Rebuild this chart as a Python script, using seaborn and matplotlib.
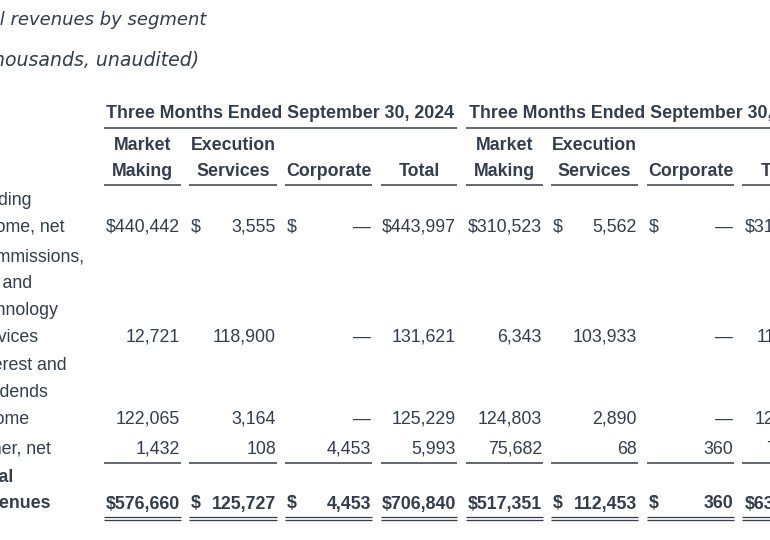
import matplotlib
matplotlib.use("Agg")
import matplotlib.pyplot as plt
import seaborn as sns

# table content
periods = ["Three Months Ended September 30, 2024", "Three Months Ended September 30, 2023"]
segments = [["Market", "Making"], ["Execution", "Services"], ["Corporate"], ["Total"]]
row_labels = [["Trading", "income, net"],
              ["Commissions,", "net and", "technology", "services"],
              ["Interest and", "dividends", "income"],
              ["Other, net"],
              ["Total", "revenues"]]

mm_2024 = [440442, 12721, 122065, 1432, 576660]
es_2024 = [3555, 118900, 3164, 108, 125727]
corp_2024 = [0, 0, 0, 4453, 4453]
tot_2024 = [443997, 131621, 125229, 5993, 706840]
mm_2023 = [310523, 6343, 124803, 75682, 517351]
es_2023 = [5562, 103933, 2890, 68, 112453]
corp_2023 = [0, 0, 0, 360, 360]
tot_2023 = [316085, 110276, 127693, 76110, 630164]
columns = [mm_2024, es_2024, corp_2024, tot_2024, mm_2023, es_2023, corp_2023, tot_2023]

# layout (pixels, y is the text baseline)
col_edges = [(104, 181), (189, 277), (285, 372), (381, 457),
             (466, 543), (551, 638), (647, 734), (742, 820)]
row_y = [231.5, 341.5, 423.5, 453.5, 508.5]
line_gap = 26.7
dollar_rows = [0, 4]
attached_dollar = [0, 3]  # market making and total columns keep "$" next to the number

sns.set_theme(style="white")
plt.rcParams["font.family"] = ["Liberation Sans", "DejaVu Sans"]
ink = "#343d4b"

fig = plt.figure(figsize=(7.7, 5.4), dpi=100)
ax = fig.add_axes([0, 0, 1, 1])
ax.set_xlim(0, 770)
ax.set_ylim(540, 0)
ax.axis("off")

fs = 12.8

# title block (cut at the left edge)
ax.text(206, 20, "Total revenues by segment", ha="right", va="center",
        fontsize=13, style="italic", color=ink, family="DejaVu Sans")
ax.text(199, 60, "(in thousands, unaudited)", ha="right", va="center",
        fontsize=13.6, style="italic", color=ink, family="DejaVu Sans")

# period headers
for p, label in enumerate(periods):
    left = col_edges[p * 4][0]
    right = col_edges[p * 4 + 3][1]
    ax.text((left + right) / 2, 118.5, label, ha="center", va="baseline",
            fontsize=fs, fontweight="bold", color=ink)
    ax.plot([left, right], [128, 128], color=ink, lw=1.1, solid_capstyle="butt")

# segment headers
for c, (left, right) in enumerate(col_edges):
    seg = segments[c % 4]
    for k, word in enumerate(reversed(seg)):
        ax.text((left + right) / 2, 175.5 - k * 26, word, ha="center", va="baseline",
                fontsize=fs, fontweight="bold", color=ink)
    ax.plot([left, right], [185, 185], color=ink, lw=1.1, solid_capstyle="butt")
    ax.plot([left, right], [463, 463], color=ink, lw=1.1, solid_capstyle="butt")
    ax.plot([left, right], [516.5, 516.5], color=ink, lw=0.9, solid_capstyle="butt")
    ax.plot([left, right], [520, 520], color=ink, lw=0.9, solid_capstyle="butt")

# row labels
for r, lines in enumerate(row_labels):
    weight = "bold" if r == len(row_labels) - 1 else "normal"
    for k, line in enumerate(reversed(lines)):
        ax.text(-27, row_y[r] - k * line_gap, line, ha="left", va="baseline",
                fontsize=fs, fontweight=weight, color=ink)

# values
for c, vals in enumerate(columns):
    left, right = col_edges[c]
    for r, v in enumerate(vals):
        weight = "bold" if r == len(row_y) - 1 else "normal"
        txt = f"{v:,}" if v else "\u2014"
        if r in dollar_rows and c % 4 in attached_dollar:
            txt = "$" + txt
        elif r in dollar_rows:
            ax.text(left + 2, row_y[r], "$", ha="left", va="baseline",
                    fontsize=fs, fontweight=weight, color=ink)
        ax.text(right - 1, row_y[r], txt, ha="right", va="baseline",
                fontsize=fs, fontweight=weight, color=ink)

fig.savefig("out.png", dpi=100, facecolor="white")
